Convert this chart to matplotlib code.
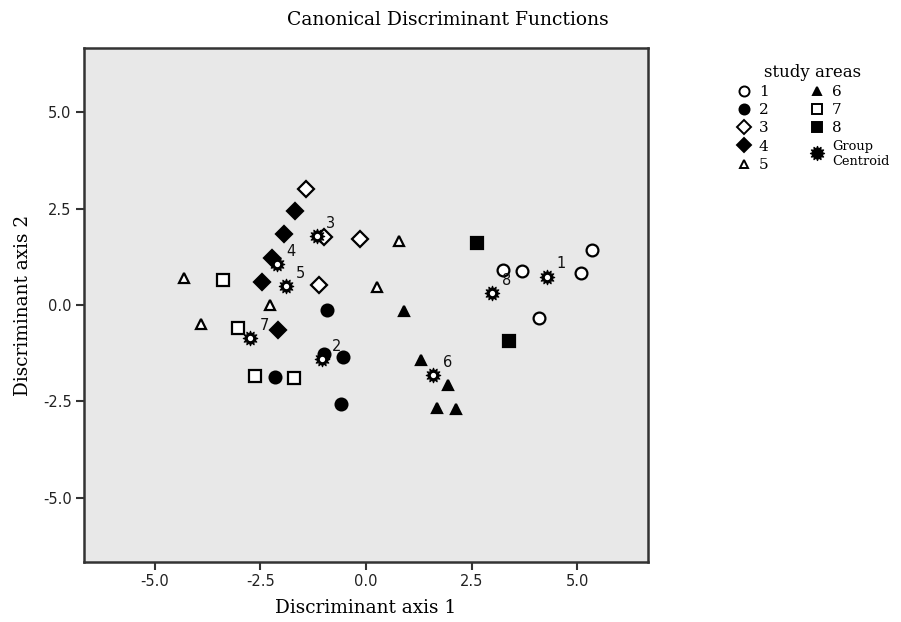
import matplotlib
matplotlib.use("Agg")
import matplotlib.pyplot as plt
from matplotlib.path import Path
from matplotlib.lines import Line2D

# ---- data ----
groups = ["1", "2", "3", "4", "5", "6", "7", "8"]
x1 = [3.25, 3.70, 4.10, 5.08, 5.34]
y1 = [0.92, 0.89, -0.35, 0.83, 1.43]
x2 = [-0.93, -0.54, -0.99, -2.15, -0.60]
y2 = [-0.12, -1.34, -1.28, -1.88, -2.58]
x3 = [-1.43, -0.14, -1.10, -1.00]
y3 = [3.01, 1.71, 0.52, 1.77]
x4 = [-1.68, -1.95, -2.23, -2.47, -2.07]
y4 = [2.44, 1.84, 1.21, 0.59, -0.64]
x5 = [0.79, 0.27, -4.30, -2.27, -3.91]
y5 = [1.67, 0.46, 0.71, 0.00, -0.50]
x6 = [0.91, 1.29, 1.95, 1.69, 2.14]
y6 = [-0.16, -1.42, -2.07, -2.68, -2.70]
x7 = [-3.39, -3.02, -2.62, -1.70]
y7 = [0.66, -0.60, -1.85, -1.90]
x8 = [2.62, 3.38]
y8 = [1.60, -0.94]
centroid_x = [4.29, -1.03, -1.17, -2.10, -1.89, 1.59, -2.74, 2.99]
centroid_y = [0.73, -1.41, 1.79, 1.06, 0.49, -1.82, -0.86, 0.31]
xticks = [-5.0, -2.5, 0.0, 2.5, 5.0]
yticks = [-5.0, -2.5, 0.0, 2.5, 5.0]

xs = [x1, x2, x3, x4, x5, x6, x7, x8]
ys = [y1, y2, y3, y4, y5, y6, y7, y8]

# ---- styles ----
styles = [
    dict(marker="o", mfc="white", ms=8.5),
    dict(marker="o", mfc="black", ms=8.5),
    dict(marker="D", mfc="white", ms=8.0),
    dict(marker="D", mfc="black", ms=8.0),
    dict(marker="^", mfc="white", ms=7.5),
    dict(marker="^", mfc="black", ms=7.5),
    dict(marker="s", mfc="white", ms=8.0),
    dict(marker="s", mfc="black", ms=8.0),
]
star = Path.unit_regular_star(12, 0.62)

serif = ["DejaVu Serif"]
sans = ["DejaVu Sans"]

fig = plt.figure(figsize=(9.01, 6.22), dpi=100)
ax = fig.add_axes([84 / 901, 1 - 562 / 622, (648 - 84) / 901, (562 - 48) / 622])
ax.set_facecolor("#e8e8e8")

for gx, gy, st in zip(xs, ys, styles):
    ax.plot(gx, gy, linestyle="none", marker=st["marker"], ms=st["ms"],
            mfc=st["mfc"], mec="black", mew=1.6, zorder=3)

ax.plot(centroid_x, centroid_y, linestyle="none", marker=star, ms=10.5,
        mfc="black", mec="black", mew=0.8, zorder=4)
ax.plot(centroid_x, centroid_y, linestyle="none", marker="o", ms=3.8,
        mfc="white", mec="white", mew=0, zorder=5)
for g, cx, cy in zip(groups, centroid_x, centroid_y):
    ax.annotate(g, (cx, cy), xytext=(14, 13), textcoords="offset pixels",
                ha="center", va="center", fontsize=10.5, family=sans,
                color="#111111", zorder=6)

ax.set_xlim(-6.67, 6.67)
ax.set_ylim(-6.67, 6.67)
ax.set_xticks(xticks)
ax.set_yticks(yticks)
ax.set_xticklabels([f"{t:.1f}" for t in xticks], family=sans, fontsize=10.5)
ax.set_yticklabels([f"{t:.1f}" for t in yticks], family=sans, fontsize=10.5)
ax.tick_params(direction="out", length=6, width=1.5, color="#333333",
               labelcolor="#222222", pad=3)
for sp in ax.spines.values():
    sp.set_linewidth(1.8)
    sp.set_color("#333333")

ax.set_xlabel("Discriminant axis 1", family=serif, fontsize=13.3, labelpad=7)
ax.set_ylabel("Discriminant axis 2", family=serif, fontsize=13.3, labelpad=8)
fig.text(0.497, 1 - 20 / 622, "Canonical Discriminant Functions",
         family=serif, fontsize=13.5, ha="center", va="center")

# ---- legend ----
handles = []
labels = []
for g, st in zip(groups, styles):
    handles.append(Line2D([], [], linestyle="none", marker=st["marker"],
                          ms=st["ms"] * 0.85, mfc=st["mfc"], mec="black", mew=1.4))
    labels.append(g)
handles.append(Line2D([], [], linestyle="none", marker=star, ms=10,
                      mfc="black", mec="black"))
labels.append("Group\nCentroid")
leg = fig.legend(handles, labels, ncol=2, loc="upper left",
                 bbox_to_anchor=(729 / 901, 1 - 56 / 622),
                 frameon=False, title="study areas",
                 prop={"family": serif, "size": 11},
                 handlelength=0.9, handletextpad=0.55, columnspacing=2.7,
                 labelspacing=0.28, borderpad=0,
                 title_fontproperties={"family": serif, "size": 12})
leg.get_texts()[-1].set_fontsize(9.3)
leg._legend_box.align = "center"

fig.savefig("out.png", dpi=100)
